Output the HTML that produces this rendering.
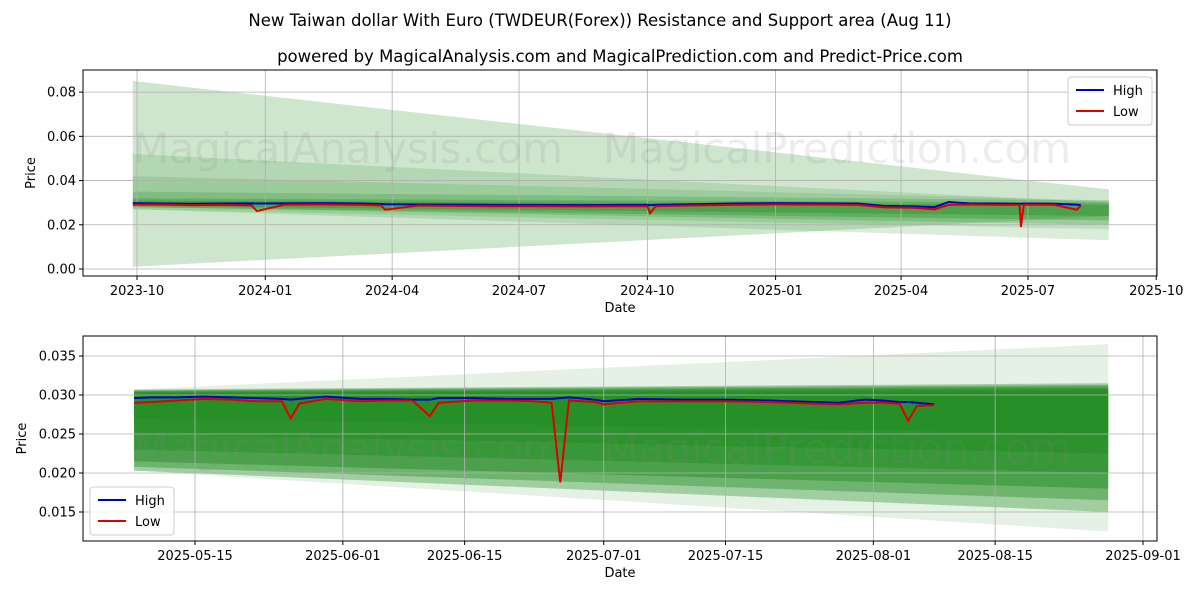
<!DOCTYPE html>
<html><head><meta charset="utf-8"><style>
body{margin:0;background:#fff;}
svg{display:block;font-family:"DejaVu Sans","Liberation Sans",sans-serif;}
</style></head><body>
<svg id="chart" width="1200" height="600" xmlns="http://www.w3.org/2000/svg">
<rect width="1200" height="600" fill="#fff"/>
<text x="600" y="26" font-size="16.5" text-anchor="middle">New Taiwan dollar With Euro (TWDEUR(Forex)) Resistance and Support area (Aug 11)</text>
<text x="620" y="62" font-size="16.5" text-anchor="middle">powered by MagicalAnalysis.com and MagicalPrediction.com and Predict-Price.com</text>
<g id="top"></g>
<g id="bot"></g>
</svg>
<script>
// ---- Top panel data ----
const topDates = ["2023-09-28","2023-10-20","2023-11-10","2023-12-01","2023-12-22","2023-12-26","2024-01-15","2024-02-10","2024-03-10","2024-03-24","2024-03-27","2024-04-20","2024-05-20","2024-06-20","2024-07-15","2024-08-15","2024-09-15","2024-10-01","2024-10-03","2024-10-07","2024-11-01","2024-12-01","2025-01-01","2025-02-01","2025-03-01","2025-03-20","2025-04-10","2025-04-25","2025-05-05","2025-05-20","2025-06-10","2025-06-25","2025-06-26","2025-06-28","2025-07-20","2025-08-05","2025-08-08"];
const topHigh = [0.0298,0.0296,0.0295,0.0296,0.0297,0.0296,0.0297,0.0298,0.0296,0.0294,0.0293,0.0292,0.0291,0.0290,0.0290,0.0289,0.0290,0.0290,0.0289,0.0290,0.0293,0.0296,0.0298,0.0297,0.0296,0.0285,0.0283,0.0280,0.0303,0.0297,0.0296,0.0295,0.0295,0.0296,0.0295,0.0291,0.0289];
const topLow = [0.0292,0.0291,0.0289,0.0290,0.0288,0.0262,0.0291,0.0292,0.0290,0.0288,0.0268,0.0287,0.0285,0.0284,0.0284,0.0283,0.0284,0.0284,0.0252,0.0284,0.0287,0.0290,0.0292,0.0291,0.0290,0.0279,0.0277,0.0270,0.0290,0.0292,0.0290,0.0290,0.0190,0.0291,0.0290,0.0268,0.0287];
const topYTicks = [0,0.02,0.04,0.06,0.08];
const topYLabels = ["0.00","0.02","0.04","0.06","0.08"];
const topXTicks = ["2023-10-01","2024-01-01","2024-04-01","2024-07-01","2024-10-01","2025-01-01","2025-04-01","2025-07-01","2025-10-01"];
const topXLabels = ["2023-10","2024-01","2024-04","2024-07","2024-10","2025-01","2025-04","2025-07","2025-10"];
const topFanStart = "2023-09-28", topFanEnd = "2025-08-28";
const topFanStartLo = [0.001,0.027,0.027,0.028,0.028,0.0285];
const topFanStartHi = [0.085,0.052,0.042,0.035,0.032,0.031];
const topFanEndLo = [0.024,0.013,0.018,0.020,0.022,0.024];
const topFanEndHi = [0.036,0.030,0.031,0.031,0.030,0.029];
const topFanAlpha = [0.22,0.16,0.15,0.22,0.3,0.35];

// ---- Bottom panel data ----
const botDates = ["2025-05-08","2025-05-10","2025-05-13","2025-05-16","2025-05-19","2025-05-22","2025-05-25","2025-05-26","2025-05-27","2025-05-30","2025-06-03","2025-06-06","2025-06-09","2025-06-11","2025-06-12","2025-06-16","2025-06-20","2025-06-23","2025-06-25","2025-06-26","2025-06-27","2025-06-30","2025-07-01","2025-07-05","2025-07-10","2025-07-15","2025-07-20","2025-07-25","2025-07-28","2025-07-31","2025-08-02","2025-08-04","2025-08-05","2025-08-06","2025-08-08"];
const botHigh = [0.0296,0.0297,0.0297,0.0298,0.0297,0.0296,0.0295,0.0294,0.0295,0.0298,0.0295,0.0295,0.0294,0.0294,0.0296,0.0296,0.0295,0.0295,0.0295,0.0296,0.0297,0.0294,0.0292,0.0295,0.0294,0.0294,0.0293,0.0291,0.0290,0.0294,0.0293,0.0291,0.0291,0.0290,0.0288];
const botLow = [0.0290,0.0291,0.0293,0.0295,0.0294,0.0292,0.0292,0.0270,0.0289,0.0295,0.0292,0.0293,0.0293,0.0273,0.0290,0.0293,0.0293,0.0292,0.0290,0.0188,0.0293,0.0291,0.0288,0.0292,0.0292,0.0292,0.0291,0.0289,0.0288,0.0290,0.0290,0.0289,0.0267,0.0286,0.0287];
const botYTicks = [0.015,0.02,0.025,0.03,0.035];
const botYLabels = ["0.015","0.020","0.025","0.030","0.035"];
const botXTicks = ["2025-05-15","2025-06-01","2025-06-15","2025-07-01","2025-07-15","2025-08-01","2025-08-15","2025-09-01"];
const botXLabels = ["2025-05-15","2025-06-01","2025-06-15","2025-07-01","2025-07-15","2025-08-01","2025-08-15","2025-09-01"];
const botFanStart = "2025-05-08", botFanEnd = "2025-08-28";
const botFanStartLo = [0.0203,0.0203,0.0208,0.0215,0.0230,0.0250,0.0270];
const botFanStartHi = [0.0307,0.0307,0.0306,0.0305,0.0304,0.0303,0.0302];
const botFanEndLo = [0.0125,0.0150,0.0165,0.0180,0.0200,0.0225,0.0250];
const botFanEndHi = [0.0365,0.0315,0.0313,0.0311,0.0309,0.0307,0.0305];
const botFanAlpha = [0.12,0.35,0.4,0.45,0.45,0.45,0.45];

const NS="http://www.w3.org/2000/svg";
function day(s){return Date.parse(s+"T00:00:00Z")/86400000;}
function mk(parent,tag,attrs){const e=document.createElementNS(NS,tag);for(const k in attrs)e.setAttribute(k,attrs[k]);parent.appendChild(e);return e;}

function panel(g,cfg){
  const {L,R,T,B,d0,d1,v0,v1}=cfg;
  const x=d=>L+(day(d)-d0)/(d1-d0)*(R-L);
  const y=v=>B-(v-v0)/(v1-v0)*(B-T);
  for(let i=0;i<cfg.fsl.length;i++){
    const xs=x(cfg.fs), xe=x(cfg.fe);
    const p=mk(g,"polygon",{points:`${xs},${y(cfg.fsh[i])} ${xe},${y(cfg.feh[i])} ${xe},${y(cfg.fel[i])} ${xs},${y(cfg.fsl[i])}`,fill:"rgb(34,139,34)","fill-opacity":cfg.fa[i]});
    
    
  }
  cfg.yt.forEach((v,i)=>{
    const l=mk(g,"line",{x1:L,x2:R,y1:y(v),y2:y(v),stroke:"#b0b0b0","stroke-width":0.8});
    
    
    mk(g,"line",{x1:L-4,x2:L,y1:y(v),y2:y(v),stroke:"#000"});
    const t=mk(g,"text",{x:L-7,y:y(v)+4.5,"font-size":13,"text-anchor":"end"});t.textContent=cfg.yl[i];
    
    
  });
  cfg.xt.forEach((d,i)=>{
    const l=mk(g,"line",{x1:x(d),x2:x(d),y1:T,y2:B,stroke:"#b0b0b0","stroke-width":0.8});
    
    
    mk(g,"line",{x1:x(d),x2:x(d),y1:B,y2:B+4,stroke:"#000"});
    const t=mk(g,"text",{x:x(d),y:B+19,"font-size":13,"text-anchor":"middle"});t.textContent=cfg.xl[i];
    
    
  });
  [["MagicalAnalysis.com",cfg.wm1x],["MagicalPrediction.com",cfg.wm2x]].forEach(w=>{
    const t=mk(g,"text",{x:w[1],y:cfg.wmy,"font-size":42,fill:"#888","fill-opacity":0.15,textLength:w[0]==="MagicalAnalysis.com"?430:468});t.textContent=w[0];
    
    
  });
  const hp=cfg.dates.map((d,i)=>`${x(d)},${y(cfg.hi[i])}`).join(" ");
  const lp=cfg.dates.map((d,i)=>`${x(d)},${y(cfg.lo[i])}`).join(" ");
  const h=mk(g,"polyline",{points:hp,fill:"none",stroke:"#0000cc","stroke-width":2});
  
  
  const lo=mk(g,"polyline",{points:lp,fill:"none",stroke:"#dd0000","stroke-width":2});
  
  
  const f=mk(g,"rect",{x:L,y:T,width:R-L,height:B-T,fill:"none",stroke:"#000","stroke-width":1});
  
  
  const xt=mk(g,"text",{x:(L+R)/2,y:B+36,"font-size":13,"text-anchor":"middle"});xt.textContent="Date";
  
  
  const yt=mk(g,"text",{x:0,y:0,"font-size":13,"text-anchor":"middle",transform:`translate(${cfg.ytx},${(T+B)/2}) rotate(-90)`});yt.textContent="Price";
  
  
  const lg=mk(g,"g",{});
  
  
  mk(lg,"rect",{x:cfg.lgx,y:cfg.lgy,width:84,height:48,rx:3,fill:"#fff","fill-opacity":0.85,stroke:"#ccc"});
  mk(lg,"line",{x1:cfg.lgx+8,x2:cfg.lgx+36,y1:cfg.lgy+13,y2:cfg.lgy+13,stroke:"#0000cc","stroke-width":2});
  mk(lg,"line",{x1:cfg.lgx+8,x2:cfg.lgx+36,y1:cfg.lgy+34,y2:cfg.lgy+34,stroke:"#dd0000","stroke-width":2});
  const t1=mk(lg,"text",{x:cfg.lgx+45,y:cfg.lgy+18,"font-size":13});t1.textContent="High";
  
  
  const t2=mk(lg,"text",{x:cfg.lgx+45,y:cfg.lgy+39,"font-size":13});t2.textContent="Low";
  
  
}

panel(document.getElementById("top"),{L:83,R:1157,T:70,B:276,d0:day("2023-10-01")-(137-83)/1.3943,d1:day("2023-10-01")+(1157-137)/1.3943,v0:-0.00316,v1:0.0900,
  dates:topDates,hi:topHigh,lo:topLow,yt:topYTicks,yl:topYLabels,xt:topXTicks,xl:topXLabels,
  fs:topFanStart,fe:topFanEnd,fsl:topFanStartLo,fsh:topFanStartHi,fel:topFanEndLo,feh:topFanEndHi,fa:topFanAlpha,
  wm1x:133,wm2x:603,wmy:163,ytx:35,lgx:1068,lgy:77});
panel(document.getElementById("bot"),{L:83,R:1157,T:336,B:541,d0:day("2025-05-15")-(195-83)/8.697,d1:day("2025-05-15")+(1157-195)/8.697,v0:0.035-(541-356)/7800,v1:0.035+(356-336)/7800,
  dates:botDates,hi:botHigh,lo:botLow,yt:botYTicks,yl:botYLabels,xt:botXTicks,xl:botXLabels,
  fs:botFanStart,fe:botFanEnd,fsl:botFanStartLo,fsh:botFanStartHi,fel:botFanEndLo,feh:botFanEndHi,fa:botFanAlpha,
  wm1x:133,wm2x:603,wmy:463,ytx:26,lgx:90,lgy:487});
</script>
</body></html>
